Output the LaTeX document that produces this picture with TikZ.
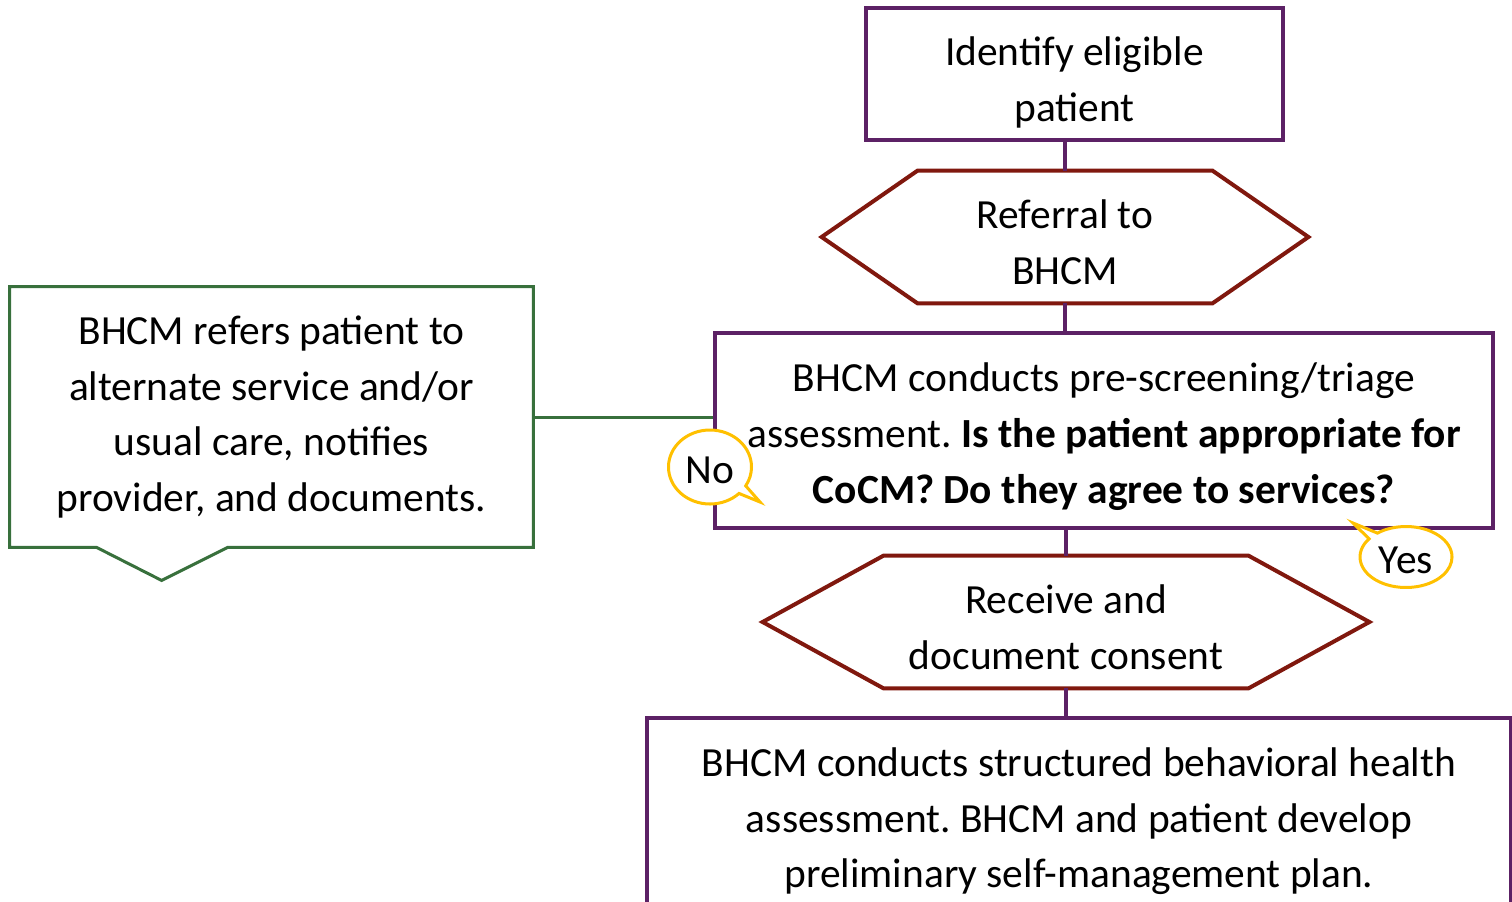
\documentclass[tikz,border=0pt]{standalone}
\usepackage{fontspec}
\setmainfont{Carlito}
\usepackage{tikz}
\usetikzlibrary{positioning, calc, shapes.callouts}
\definecolor{plum}{RGB}{92,33,101}
\definecolor{rust}{RGB}{128,24,14}
\definecolor{leaf}{RGB}{56,112,60}
\definecolor{gold}{RGB}{255,192,0}
\frenchspacing
\tikzset{
    flowtext/.style={font=\fontsize{20.8}{28}\selectfont, align=center, inner sep=0pt},
    lowered/.style={execute at begin node={\rule{0pt}{#1}}},
    procbox/.style={flowtext, draw=plum, line width=2bp},
    hexbox/.style={flowtext},
    hexline/.style={draw=rust, line width=2bp, line join=miter},
    link/.style={draw=plum, line width=2bp},
    altline/.style={draw=leaf, line width=1.5bp},
    bubble/.style={ellipse callout, draw=gold, fill=white, line width=1.5bp, flowtext, lowered=17bp}
}

\begin{document}
\begin{tikzpicture}[x=0.5bp, y=-0.5bp]
    \useasboundingbox (0,0) rectangle (1512,901);
    \clip (0,0) rectangle (1512,901);

    \node[procbox, lowered=51bp, minimum width=208.5bp, minimum height=66bp] (identify) at (1074.5,74) {Identify eligible\\patient};
    \node[hexbox, lowered=47.5bp, minimum width=147bp, minimum height=66bp] (referral) at (1065,237) {Referral to\\BHCM};
    \path[hexline] (referral.north west) -- (referral.north east) -- ([xshift=48bp]referral.east)
        -- (referral.south east) -- (referral.south west) -- ([xshift=-48bp]referral.west) -- cycle;
    \node[procbox, lowered=76.5bp, minimum width=389bp, minimum height=97.5bp] (screen) at (1104,430.5)
        {BHCM conducts pre-screening/triage\\assessment. \textbf{Is the patient appropriate for}\\\textbf{CoCM? Do they agree to services?}};
    \node[hexbox, lowered=47.5bp, minimum width=182bp, minimum height=66bp] (consent) at (1066,622) {Receive and\\document consent};
    \path[hexline] (consent.north west) -- (consent.north east) -- ([xshift=60.5bp]consent.east)
        -- (consent.south east) -- (consent.south west) -- ([xshift=-60.5bp]consent.west) -- cycle;
    \node[procbox, lowered=73.5bp, minimum width=432bp, minimum height=100bp] (assess) at (1079,818)
        {BHCM conducts structured behavioral health\\assessment. BHCM and patient develop\\preliminary self-management plan.};

    \node[flowtext, minimum width=261.5bp, minimum height=130bp] (refers) at (271.5,417)
        {BHCM refers patient to\\alternate service and/or\\usual care, notifies\\provider, and documents.};
    \path[altline] (refers.north west) -- (refers.north east) -- (refers.south east)
        -- ([xshift=109bp]refers.south west) -- ([xshift=76bp, yshift=-16.5bp]refers.south west)
        -- ([xshift=43.5bp]refers.south west) -- (refers.south west) -- cycle;

    \draw[link] (referral.north) -- (referral.north |- identify.south);
    \draw[link] (referral.south) -- (referral.south |- screen.north);
    \draw[link] (consent.north) -- (consent.north |- screen.south);
    \draw[link] (consent.south) -- (consent.south |- assess.north);
    \draw[altline] (refers.east) -- (refers.east -| screen.west);

    \node[bubble, minimum width=41.5bp, minimum height=37bp, callout absolute pointer={(760,502)}] (no) at (710,467) {No};
    \node[bubble, minimum width=46bp, minimum height=30.5bp, callout absolute pointer={(1353,523)}] (yes) at (1406,557) {Yes};
\end{tikzpicture}
\end{document}
